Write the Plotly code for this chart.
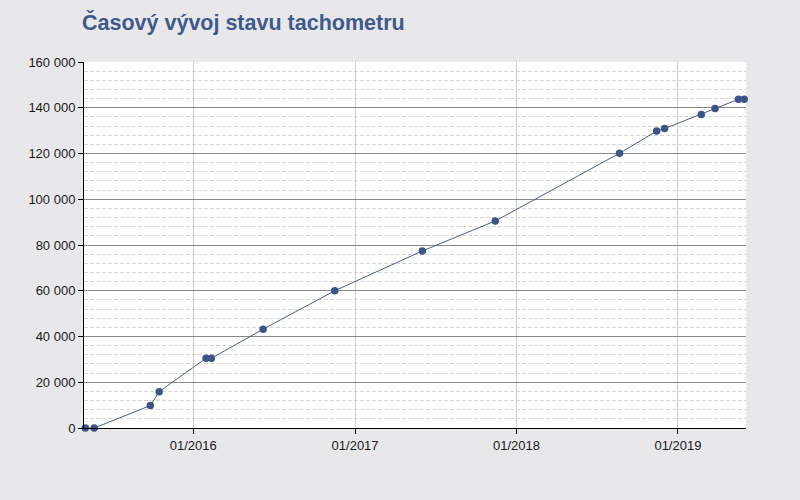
import plotly.graph_objects as go

dates = ["2015-05-02", "2015-05-22", "2015-09-26", "2015-10-16", "2016-01-30", "2016-02-11",
         "2016-06-07", "2016-11-16", "2017-06-02", "2017-11-14", "2018-08-22", "2018-11-14",
         "2018-12-02", "2019-02-23", "2019-03-26", "2019-05-18", "2019-05-31"]
km = [0, 0, 9800, 15900, 30500, 30500, 43200, 60000, 77400, 90500, 120100, 129800,
      130900, 137100, 139700, 143700, 143700]

x_range = ["2015-04-29", "2019-06-04"]
y_range = [0, 160000]
title = "Časový vývoj stavu tachometru"

fig = go.Figure(go.Scatter(
    x=dates, y=km, mode="lines+markers",
    line=dict(color="#4a5f80", width=1),
    marker=dict(color="#3d5586", size=7.5),
    cliponaxis=False,
))

fig.update_layout(
    width=800, height=500,
    paper_bgcolor="#e8e8ea", plot_bgcolor="#ffffff",
    margin=dict(l=76, r=62, t=54, b=80),
    separators=", ",
    font=dict(family="Liberation Sans, Arial, sans-serif", size=13, color="#1a1a1a"),
    title=dict(text="<b>" + title + "</b>", x=74 / 800, xanchor="left", y=1 - 14 / 500, yanchor="middle",
               font=dict(size=21.5, color="#3f5a8a")),
    showlegend=False,
)
fig.update_xaxes(
    range=x_range, type="date",
    tick0="2016-01-01", dtick="M12", tickformat="%m/%Y",
    showgrid=True, gridcolor="#cccccc", gridwidth=1,
    showline=True, linecolor="#000000", linewidth=1,
    ticks="outside", ticklen=5, tickcolor="#000000",
    zeroline=False,
)
fig.update_yaxes(
    range=y_range, dtick=20000, tickformat=",d",
    showgrid=True, gridcolor="#888888", gridwidth=1,
    minor=dict(dtick=4000, showgrid=True, gridcolor="#d6d6d6", griddash="4px,2px", gridwidth=1),
    showline=True, linecolor="#000000", linewidth=1,
    ticks="outside", ticklen=5, tickcolor="#000000",
    zeroline=False,
)

fig.write_html("out.html", post_script="document.body.style.background='#e8e8ea';")
